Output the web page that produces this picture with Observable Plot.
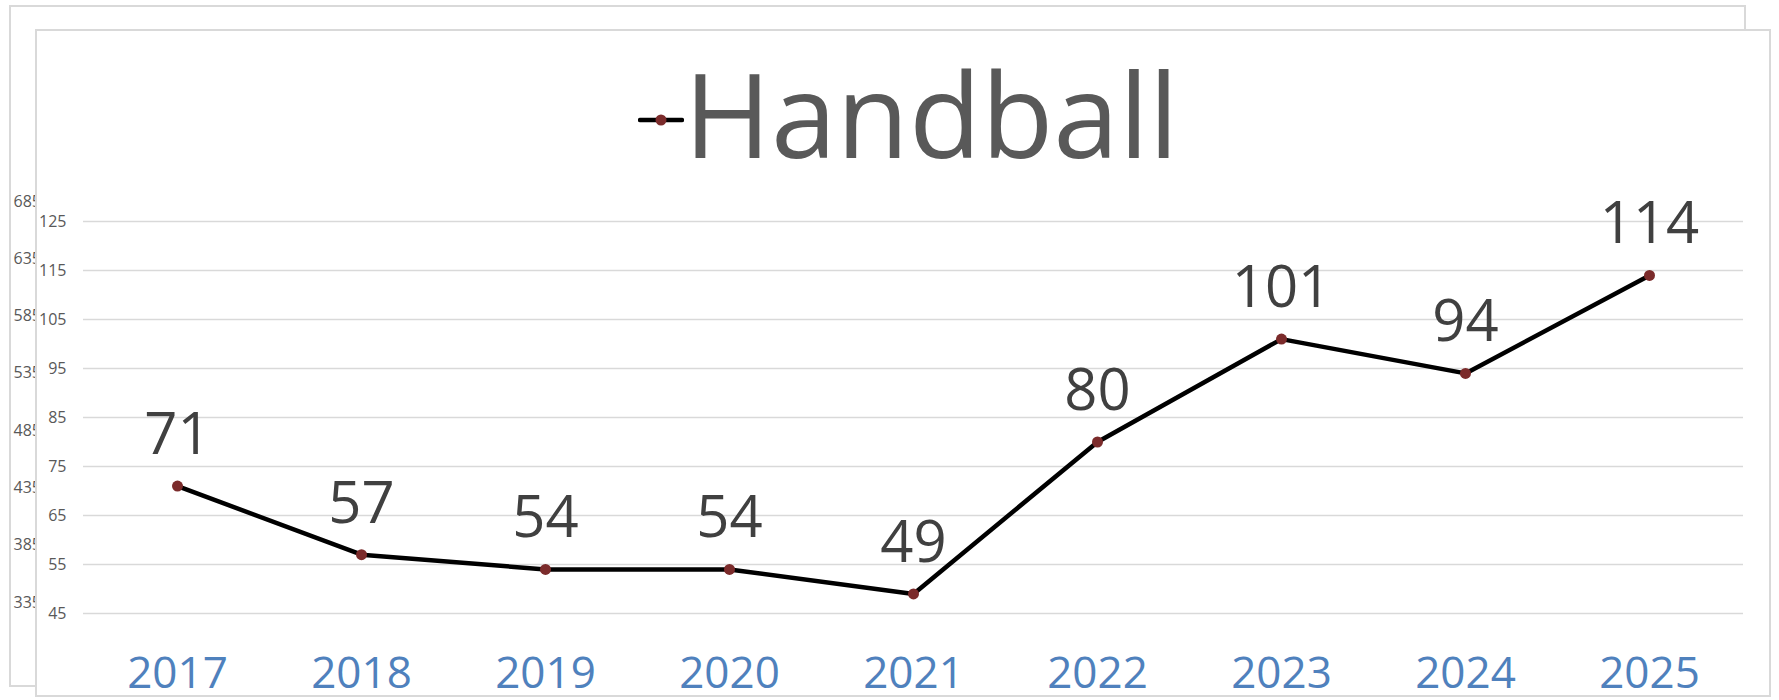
<!DOCTYPE html>
<html>
<head>
<meta charset="utf-8">
<script src="https://cdn.jsdelivr.net/npm/d3@7"></script>
<script src="https://cdn.jsdelivr.net/npm/@observablehq/plot@0.6"></script>
<style>
  html, body { margin: 0; padding: 0; background: #ffffff; }
  #stage { position: relative; width: 1779px; height: 700px; overflow: hidden; font-family: "Open Sans", sans-serif; }
  .frame { position: absolute; box-sizing: border-box; border: 2px solid #d9d9d9; background: #ffffff; }
  #back { left: 9px; top: 5px; width: 1737px; height: 682px; z-index: 0; }
  #ghost { position: absolute; left: 0; top: 0; z-index: 1; }
  #front { left: 35px; top: 29px; width: 1736px; height: 668px; z-index: 2; }
  #main { position: absolute; left: 0; top: 0; z-index: 3; }
  #legend { position: absolute; left: 638px; top: 54px; z-index: 4; display: flex; align-items: flex-start; white-space: nowrap; }
  #legend span { font-size: 118px; line-height: 118px; color: #595959; font-family: "Open Sans", sans-serif; }
  #legend svg { margin-top: 60px; }
</style>
</head>
<body>
<div id="stage">
  <div class="frame" id="back"></div>
  <div id="ghost"></div>
  <div class="frame" id="front"></div>
  <div id="main"></div>
  <div id="legend"></div>
</div>
<script>
// ---- data ----
const years = ["2017", "2018", "2019", "2020", "2021", "2022", "2023", "2024", "2025"];
const values = [71, 57, 54, 54, 49, 80, 101, 94, 114];
const yTicks = [45, 55, 65, 75, 85, 95, 105, 115, 125];
const ghostTicks = [685, 635, 585, 535, 485, 435, 385, 335];
const seriesName = "Handball";

const data = years.map((year, i) => ({year, value: values[i]}));

const lineColor = "#000000";
const dotColor = "#7b2b2b";

// ---- ghost axis (back chart, mostly hidden) ----
const ghost = Plot.plot({
  width: 1779,
  height: 700,
  marginLeft: 13,
  marginRight: 0,
  marginTop: 201,
  marginBottom: 98,
  style: {background: "transparent", fontFamily: "Open Sans, sans-serif"},
  x: {axis: null},
  y: {domain: [335, 685], axis: null},
  marks: [
    Plot.text(ghostTicks, {y: d => d, text: d => String(d), frameAnchor: "left", textAnchor: "start", fontSize: 16, fill: "#595959"})
  ]
});
document.getElementById("ghost").appendChild(ghost);

// ---- main chart ----
const chart = Plot.plot({
  width: 1779,
  height: 700,
  marginLeft: 83,
  marginRight: 36,
  marginTop: 221,
  marginBottom: 87,
  style: {background: "transparent", fontFamily: "Open Sans, sans-serif", overflow: "visible"},
  x: {type: "point", domain: years, padding: 0.5, label: null},
  y: {domain: [45, 125], label: null},
  marks: [
    Plot.gridY(yTicks, {stroke: "#d9d9d9", strokeOpacity: 1, strokeWidth: 1.5}),
    Plot.axisY(yTicks, {tickSize: 0, tickPadding: 17, fontSize: 16, color: "#595959", label: null}),
    Plot.axisX({tickSize: 0, tickPadding: 43, fontSize: 44, color: "#4f81bd", label: null}),
    Plot.line(data, {x: "year", y: "value", stroke: lineColor, strokeWidth: 4.5}),
    Plot.dot(data, {x: "year", y: "value", r: 5.5, fill: dotColor, stroke: "none"}),
    Plot.text(data, {x: "year", y: "value", text: d => String(d.value), dy: -32, lineAnchor: "bottom", fontSize: 58, fill: "#404040"})
  ]
});
document.getElementById("main").appendChild(chart);

// ---- legend ----
const legend = document.getElementById("legend");
const ns = "http://www.w3.org/2000/svg";
const sw = document.createElementNS(ns, "svg");
sw.setAttribute("width", "46");
sw.setAttribute("height", "12");
const ln = document.createElementNS(ns, "line");
ln.setAttribute("x1", "2"); ln.setAttribute("x2", "44");
ln.setAttribute("y1", "6"); ln.setAttribute("y2", "6");
ln.setAttribute("stroke", lineColor); ln.setAttribute("stroke-width", "4.5"); ln.setAttribute("stroke-linecap", "round");
const cc = document.createElementNS(ns, "circle");
cc.setAttribute("cx", "23"); cc.setAttribute("cy", "6"); cc.setAttribute("r", "5.5"); cc.setAttribute("fill", dotColor);
sw.appendChild(ln); sw.appendChild(cc);
legend.appendChild(sw);
const lab = document.createElement("span");
lab.textContent = seriesName;
legend.appendChild(lab);
</script>
</body>
</html>
